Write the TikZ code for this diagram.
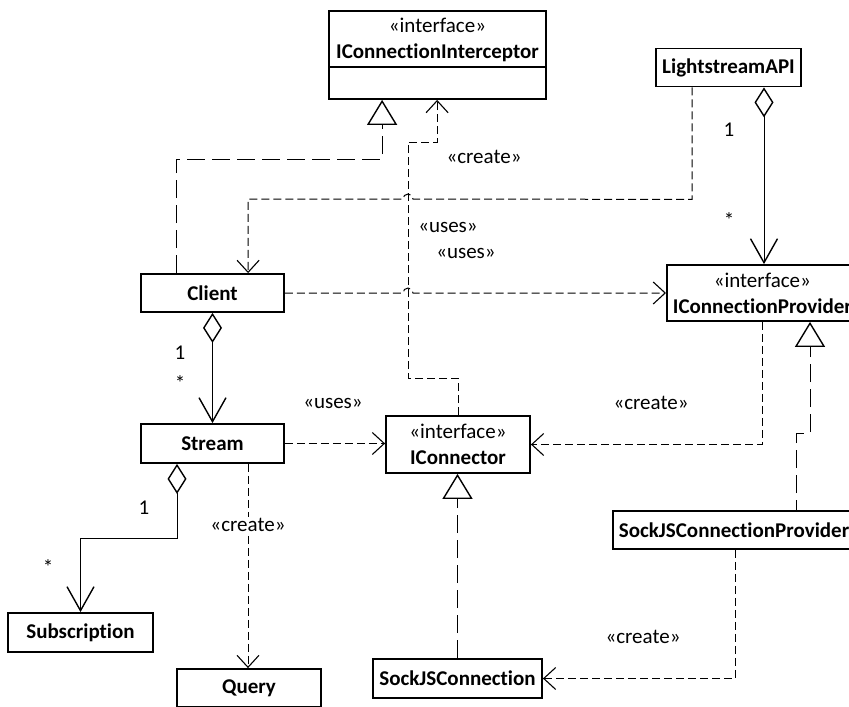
\documentclass[tikz,border=0pt]{standalone}
\usepackage{fontspec}
\setmainfont{Carlito}[Ligatures=NoCommon]
\usetikzlibrary{arrows.meta}
\begin{document}
\begin{tikzpicture}[x=1pt,y=-1pt,
  txt/.style={font=\fontsize{21}{26}\selectfont},
  cls/.style={draw,line width=1.8pt,minimum height=38pt,inner sep=0pt,
    align=center,fill=white,font=\fontsize{21}{26}\selectfont\bfseries},
  iface/.style={draw,line width=1.8pt,inner sep=0pt,align=center,fill=white,
    font=\fontsize{21}{26}\selectfont},
  lbl/.style={txt,inner sep=1pt},
  conn/.style={line width=1pt},
  dep/.style={conn,dash pattern=on 8pt off 4pt,
    -{Straight Barb[length=12pt,width=22pt,line width=1.1pt]}},
  real/.style={conn,dash pattern=on 18pt off 7pt,
    -{Triangle[length=25pt,width=30pt,fill=white,line width=1.4pt]}},
  agg/.style={conn,{Diamond[length=30pt,width=19pt,fill=white,line width=1.4pt]}-{Straight Barb[length=24pt,width=27pt,line width=1.4pt]}}]
\useasboundingbox (0,0) rectangle (849,707);
\clip (0,0) rectangle (849,707);

% classes
\node[iface,minimum width=217pt,minimum height=88pt] (ici) at (437.5,55) {};
\node[txt,align=center,inner sep=0pt] (icilabel) at (437.5,40)
  {«interface»\\\textbf{IConnectionInterceptor}};
\draw[line width=1.8pt] ([yshift=-12pt]ici.west) -- ([yshift=-12pt]ici.east);

\node[cls,minimum width=145pt] (api) at (728.5,67.5) {LightstreamAPI};
\node[iface,anchor=west,inner xsep=6pt,minimum height=56pt] (icp) at (666,293)
  {«interface»\\\textbf{IConnectionProvider}};
\node[cls,minimum width=143pt] (cl) at (212.5,293) {Client};
\node[cls,minimum width=143pt,minimum height=39pt] (st) at (212.5,443.5) {Stream};
\node[iface,minimum width=144pt,minimum height=57pt] (icn) at (458,444.5)
  {«interface»\\\textbf{IConnector}};
\node[cls,anchor=west,inner xsep=6pt] (sjp) at (612,530) {SockJSConnectionProvider};
\node[cls,minimum width=145pt,minimum height=39pt] (sub) at (80.5,632.5) {Subscription};
\node[cls,minimum width=144pt] (qry) at (249,688) {Query};
\node[cls,minimum width=169pt,minimum height=39pt] (sjc) at (457.5,678.5) {SockJSConnection};

% crossing points where a line hops over another
\coordinate (hopA) at (408,199);
\coordinate (hopB) at (408,293);

% realizations
\draw[real] ([xshift=36pt]cl.north west) -- ++(0,-114) -| ([xshift=54pt]ici.south west);
\draw[real,dash phase=8pt] ([xshift=184pt]sjp.north west) -- ++(0,-77) -- ++(14,0)
  -- ([xshift=144pt]icp.south west);
\draw[real] (sjc.north) -- (sjc.north |- icn.south);

% aggregations
\draw[agg] ([xshift=35.5pt]api.south) -- ([xshift=98pt]icp.north west);
\draw[agg] (cl.south) -- (st.north);
\draw[agg] ([xshift=-35.5pt]st.south) -- ++(0,75) -| (sub.north);

% dependencies
\draw[dep] ([xshift=-36.5pt]api.south) -- ++(0,112) -- ([xshift=5pt]hopA)
  arc[start angle=0,end angle=180,radius=5pt] -| ([xshift=108pt]cl.north west);
\draw[dep] (cl.east) -- ([xshift=-5pt]hopB)
  arc[start angle=180,end angle=0,radius=5pt] -- (cl.east -| icp.west);
\draw[dep] (icn.north) -- ++(0,-37) -- ++(-50,0) -- ++(0,-236)
  -| ([xshift=109pt]ici.south west);
\draw[dep] (st.east) -- (st.east -| icn.west);
\draw[dep] ([xshift=96pt]icp.south west) |- (icn.east);
\draw[dep] ([xshift=35.5pt]st.south) -- ([xshift=35.5pt]st.south |- qry.north);
\draw[dep] ([xshift=123pt]sjp.south west) |- (sjc.east);

% labels
\node[lbl] (lcrA) at (484,157) {«create»};
\node[lbl] (lusA) at (448,227) {«uses»};
\node[lbl] (lusB) at (466,253) {«uses»};
\node[lbl] (mApi) at (729,130) {1};
\node[lbl] (mIcp) at (729,220) {*};
\node[lbl] (mCl) at (180,353) {1};
\node[lbl] (mSt) at (180,383) {*};
\node[lbl] (lusC) at (333,403) {«uses»};
\node[lbl] (lcrB) at (651,403) {«create»};
\node[lbl] (mSt2) at (144,508) {1};
\node[lbl] (mSub) at (48,567) {*};
\node[lbl,fill=white] (lcrC) at (248,525) {«create»};
\node[lbl] (lcrD) at (643,637) {«create»};
\end{tikzpicture}
\end{document}
